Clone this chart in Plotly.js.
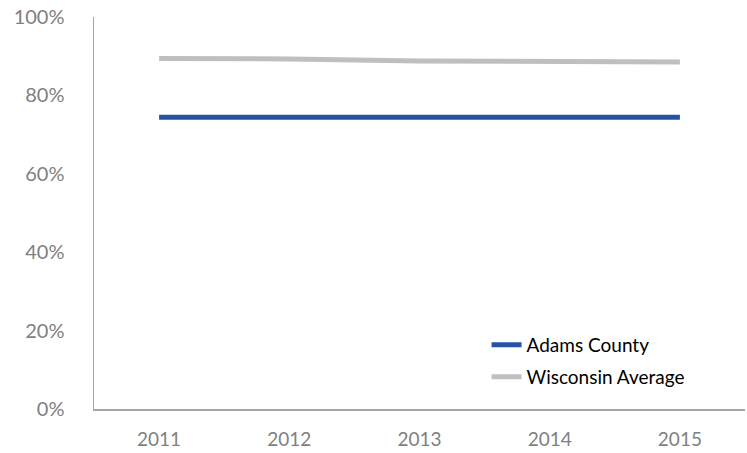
<!DOCTYPE html>
<html><head><meta charset="utf-8">
<script src="https://cdn.plot.ly/plotly-3.0.1.min.js"></script>
<style>body{margin:0;background:#fff}#chart{width:747px;height:453px}</style>
</head><body><div id="chart"></div>
<script>
const years = ['2011','2012','2013','2014','2015'];
const adamsCounty = [0.744, 0.744, 0.744, 0.744, 0.744];
const wisconsinAverage = [0.894, 0.893, 0.888, 0.887, 0.885];
const yTicks = [0, 0.2, 0.4, 0.6, 0.8, 1.0];
const yTickText = ['0%','20%','40%','60%','80%','100%'];

const traces = [
  {x: years, y: adamsCounty, name: 'Adams County', mode: 'lines', type: 'scatter',
   line: {color: '#2753A6', width: 5}, legend: 'legend'},
  {x: years, y: wisconsinAverage, name: 'Wisconsin Average', mode: 'lines', type: 'scatter',
   line: {color: '#BFBFBF', width: 5}, legend: 'legend2'}
];
const legendBase = {xanchor: 'left', yanchor: 'middle',
  font: {size: 19, color: '#000'}, bgcolor: 'rgba(0,0,0,0)'};
const layout = {
  width: 747, height: 453,
  margin: {l: 94, r: 2, t: 17, b: 44},
  paper_bgcolor: '#fff', plot_bgcolor: '#fff',
  font: {family: 'Lato, "Open Sans", sans-serif', color: '#7f7f7f', size: 19},
  showlegend: true,
  legend: Object.assign({x: 0.603, y: (409-345)/392}, legendBase),
  legend2: Object.assign({x: 0.603, y: (409-377)/392}, legendBase),
  xaxis: {type: 'category', range: [-0.5, 4.5], showgrid: false, zeroline: false,
    showline: true, linecolor: '#a6a6a6', linewidth: 1.5, ticks: '',
    ticklabelstandoff: 13, tickfont: {size: 19, color: '#7f7f7f'}},
  yaxis: {range: [0, 1], tickvals: yTicks, ticktext: yTickText, showgrid: false,
    zeroline: false, showline: true, linecolor: '#a6a6a6', linewidth: 1.5, ticks: '',
    ticklabelstandoff: 24, tickfont: {size: 20, color: '#7f7f7f'}}
};
Plotly.newPlot('chart', traces, layout, {displayModeBar: false, staticPlot: true});
</script></body></html>
